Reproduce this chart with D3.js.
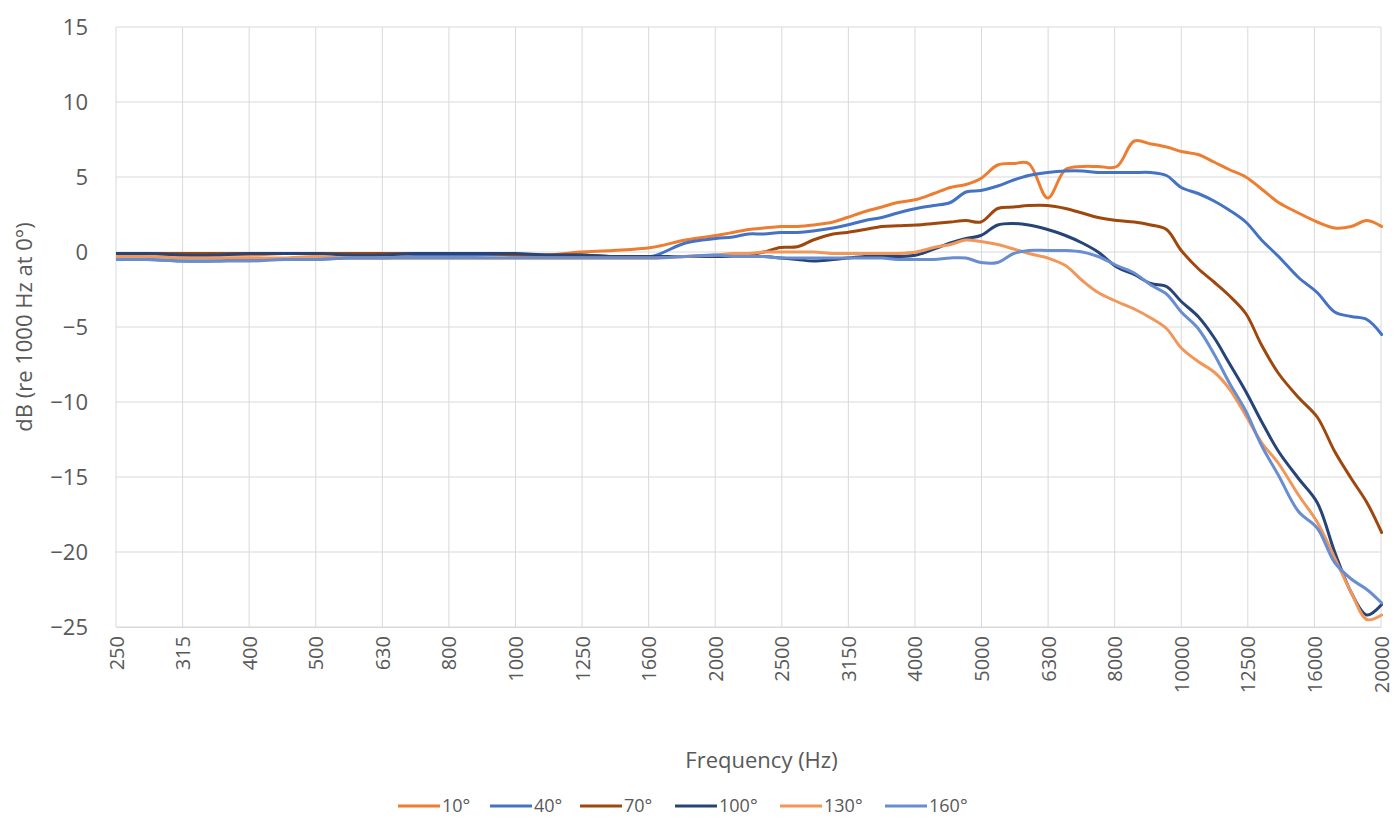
<!DOCTYPE html>
<html>
<head>
<meta charset="utf-8">
<script src="https://cdn.jsdelivr.net/npm/d3@7"></script>
<style>
  html, body { margin: 0; padding: 0; background: #ffffff; }
  svg { display: block; }
  text { font-family: "Open Sans", Lato, "Liberation Sans", sans-serif; fill: #595959; }
</style>
</head>
<body>
<svg id="chart" width="1398" height="821"></svg>
<script>
// Third-octave band labels shown on the frequency axis
const bandLabels = ["250","315","400","500","630","800","1000","1250","1600","2000",
                    "2500","3150","4000","5000","6300","8000","10000","12500","16000","20000"];

// Measurement frequencies (Hz)
const freqs = [250, 280, 315, 355, 400, 450, 500, 560, 630, 710, 800, 900, 1000, 1120, 1250, 1400, 1600, 1800,
  2000, 2120, 2240, 2360, 2500, 2650, 2800, 3000, 3150, 3350, 3550, 3750, 4000, 4250, 4500, 4750,
  5000, 5300, 5600, 5900, 6300, 6700, 7100, 7500, 8000, 8500, 9000, 9500, 10000, 10600, 11200, 11800,
  12500, 13200, 14000, 15000, 16000, 17000, 18000, 19000, 20000];

// Level relative to 1000 Hz at 0° (dB), one array per incidence angle
const deg10 = [-0.1, -0.1, -0.2, -0.2, -0.2, -0.1, -0.1, -0.1, -0.1, -0.1, -0.1, -0.1, -0.2, -0.2, 0.0, 0.1, 0.3, 0.8,
  1.1, 1.3, 1.5, 1.6, 1.7, 1.7, 1.8, 2.0, 2.3, 2.7, 3.0, 3.3, 3.5, 3.9, 4.3, 4.5,
  4.9, 5.8, 5.9, 5.9, 3.6, 5.5, 5.7, 5.7, 5.7, 7.4, 7.2, 7.0, 6.7, 6.5, 6.0, 5.5,
  5.0, 4.2, 3.3, 2.6, 2.0, 1.6, 1.7, 2.1, 1.7];

const deg40 = [-0.5, -0.5, -0.6, -0.6, -0.5, -0.5, -0.5, -0.4, -0.4, -0.3, -0.3, -0.2, -0.2, -0.3, -0.3, -0.3, -0.3, 0.6,
  0.9, 1.0, 1.2, 1.2, 1.3, 1.3, 1.4, 1.6, 1.8, 2.1, 2.3, 2.6, 2.9, 3.1, 3.3, 4.0,
  4.1, 4.4, 4.8, 5.1, 5.3, 5.4, 5.4, 5.3, 5.3, 5.3, 5.3, 5.1, 4.3, 3.9, 3.4, 2.8,
  2.0, 0.8, -0.3, -1.7, -2.7, -4.0, -4.3, -4.5, -5.5];

const deg70 = [-0.1, -0.1, -0.1, -0.1, -0.1, -0.1, -0.1, -0.1, -0.1, -0.1, -0.1, -0.1, -0.2, -0.2, -0.2, -0.3, -0.3, -0.3,
  -0.3, -0.3, -0.2, 0.0, 0.3, 0.35, 0.8, 1.2, 1.3, 1.5, 1.7, 1.75, 1.8, 1.9, 2.0, 2.1,
  2.0, 2.9, 3.0, 3.1, 3.1, 2.9, 2.6, 2.3, 2.1, 2.0, 1.8, 1.5, 0.1, -1.1, -2.0, -2.9,
  -4.1, -6.2, -8.1, -9.7, -11.0, -13.3, -15.1, -16.7, -18.7];

const deg100 = [-0.1, -0.1, -0.2, -0.2, -0.1, -0.1, -0.1, -0.2, -0.2, -0.1, -0.1, -0.1, -0.1, -0.2, -0.2, -0.3, -0.3, -0.3,
  -0.3, -0.3, -0.3, -0.3, -0.4, -0.5, -0.6, -0.5, -0.4, -0.3, -0.3, -0.3, -0.2, 0.2, 0.6, 0.9,
  1.1, 1.8, 1.9, 1.8, 1.5, 1.1, 0.6, 0.0, -1.0, -1.5, -2.1, -2.3, -3.3, -4.3, -5.7, -7.4,
  -9.3, -11.3, -13.3, -15.1, -16.7, -20.0, -22.7, -24.2, -23.5];

const deg130 = [-0.3, -0.3, -0.4, -0.4, -0.4, -0.4, -0.3, -0.4, -0.4, -0.4, -0.4, -0.4, -0.4, -0.4, -0.4, -0.4, -0.4, -0.3,
  -0.2, -0.1, -0.1, 0.0, 0.0, 0.0, 0.0, -0.1, -0.1, -0.1, -0.1, -0.1, 0.0, 0.3, 0.5, 0.8,
  0.7, 0.5, 0.2, -0.1, -0.4, -0.9, -1.9, -2.7, -3.3, -3.8, -4.4, -5.1, -6.4, -7.3, -8.0, -9.1,
  -10.9, -12.7, -14.1, -16.2, -18.0, -20.4, -22.7, -24.5, -24.2];

const deg160 = [-0.5, -0.5, -0.6, -0.6, -0.6, -0.5, -0.5, -0.4, -0.4, -0.4, -0.4, -0.4, -0.4, -0.4, -0.4, -0.4, -0.4, -0.3,
  -0.2, -0.3, -0.3, -0.3, -0.4, -0.4, -0.4, -0.4, -0.4, -0.4, -0.4, -0.5, -0.5, -0.5, -0.4, -0.4,
  -0.7, -0.7, -0.1, 0.1, 0.1, 0.1, 0.0, -0.3, -0.9, -1.4, -2.2, -2.8, -4.0, -5.1, -6.8, -8.7,
  -10.6, -12.9, -14.9, -17.3, -18.4, -20.7, -21.8, -22.5, -23.4];

const seriesNames = ["10°", "40°", "70°", "100°", "130°", "160°"];
const seriesColors = ["#ED7D31", "#4472C4", "#9E480E", "#264478", "#F1975A", "#698ED0"];
const seriesValues = [deg10, deg40, deg70, deg100, deg130, deg160];

const yTicks = [15, 10, 5, 0, -5, -10, -15, -20, -25];

const svg = d3.select("#chart");
const margin = { left: 116, right: 17, top: 27, bottom: 194 };
const W = 1398, H = 821;
const plotW = W - margin.left - margin.right;
const plotH = H - margin.top - margin.bottom;

// Band centres are the exact base-10 third-octave frequencies 10^(n/10)
const bandCentres = bandLabels.map((_, i) => Math.pow(10, (24 + i) / 10));

const x = d3.scaleLog()
  .domain([bandCentres[0], bandCentres[bandCentres.length - 1]])
  .range([margin.left, margin.left + plotW]);

const y = d3.scaleLinear()
  .domain([-25, 15])
  .range([margin.top + plotH, margin.top]);

// Grid
const grid = svg.append("g");
grid.selectAll("line.h").data(yTicks).join("line")
  .attr("x1", margin.left).attr("x2", margin.left + plotW)
  .attr("y1", d => y(d)).attr("y2", d => y(d))
  .attr("stroke", "#d9d9d9").attr("stroke-width", 1);
grid.selectAll("line.v").data(bandCentres).join("line")
  .attr("x1", d => x(d)).attr("x2", d => x(d))
  .attr("y1", margin.top).attr("y2", margin.top + plotH)
  .attr("stroke", "#d9d9d9").attr("stroke-width", 1);

// Y axis
const yAxis = d3.axisLeft(y).tickValues(yTicks).tickSize(0).tickPadding(0);
const gy = svg.append("g").attr("transform", `translate(${margin.left - 28},0)`).call(yAxis);
gy.select(".domain").remove();
gy.selectAll("text").attr("font-size", 22).attr("fill", "#595959")
  .style("font-family", "'Open Sans', Lato, sans-serif");

// X axis with rotated band labels
const xAxis = d3.axisBottom(x).tickValues(bandCentres)
  .tickFormat((d, i) => bandLabels[i]).tickSize(0);
const gx = svg.append("g").attr("transform", `translate(0,${margin.top + plotH})`).call(xAxis);
gx.select(".domain").attr("stroke", "#d9d9d9");
gx.selectAll("text")
  .attr("font-size", 20).attr("fill", "#595959")
  .style("font-family", "'Open Sans', Lato, sans-serif")
  .attr("text-anchor", "end")
  .attr("dy", "0.35em")
  .attr("transform", "translate(0,9) rotate(-90)")
  .attr("x", 0).attr("y", 0);

// Axis titles
svg.append("text")
  .attr("x", margin.left + plotW / 2 + 13).attr("y", 768)
  .attr("text-anchor", "middle").attr("font-size", 22)
  .text("Frequency (Hz)");
svg.append("text")
  .attr("transform", `translate(32,${margin.top + plotH / 2}) rotate(-90)`)
  .attr("text-anchor", "middle").attr("font-size", 22)
  .text("dB (re 1000 Hz at 0°)");

// Series lines
svg.append("clipPath").attr("id", "plotClip").append("rect")
  .attr("x", margin.left).attr("y", margin.top - 5)
  .attr("width", plotW + 2).attr("height", plotH + 10);

const line = d3.line()
  .x(d => x(d[0]))
  .y(d => y(d[1]))
  .curve(d3.curveCatmullRom.alpha(0.5));

const lines = svg.append("g").attr("clip-path", "url(#plotClip)");
seriesValues.forEach((vals, i) => {
  const pts = freqs.map((f, k) => [f, vals[k]]);
  lines.append("path")
    .attr("d", line(pts))
    .attr("fill", "none")
    .attr("stroke", seriesColors[i])
    .attr("stroke-width", 3)
    .attr("stroke-linejoin", "round")
    .attr("stroke-linecap", "round");
});

// Legend
const legendX = [398, 490, 580, 675, 780, 885];
const legend = svg.append("g");
seriesNames.forEach((name, i) => {
  const g = legend.append("g").attr("transform", `translate(${legendX[i]},806)`);
  g.append("line").attr("x1", 0).attr("x2", 42).attr("y1", 0).attr("y2", 0)
    .attr("stroke", seriesColors[i]).attr("stroke-width", 3);
  g.append("text").attr("x", 44).attr("y", 0).attr("dy", "0.35em")
    .attr("font-size", 18).text(name);
});
</script>
</body>
</html>
